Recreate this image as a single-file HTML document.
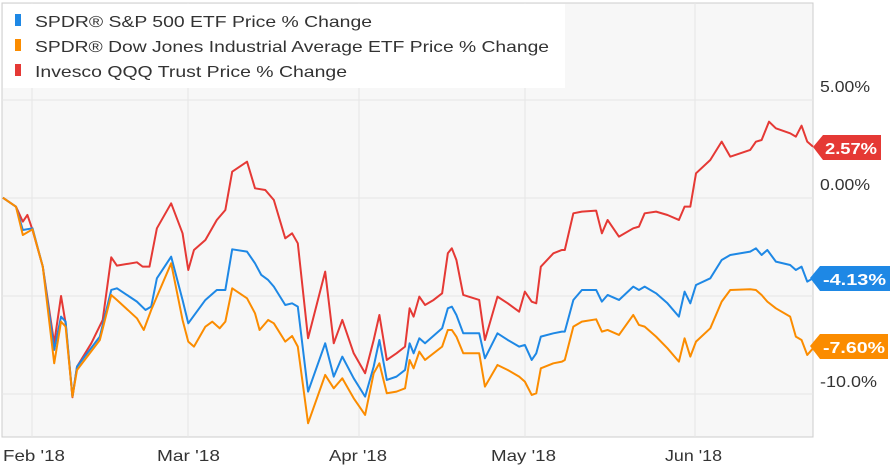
<!DOCTYPE html>
<html><head><meta charset="utf-8"><style>
body{margin:0;background:#fff;width:892px;height:471px;overflow:hidden;font-family:"Liberation Sans",sans-serif;}
</style></head><body>
<svg width="892" height="471" xmlns="http://www.w3.org/2000/svg" font-family="Liberation Sans, sans-serif">
<rect x="0" y="0" width="892" height="471" fill="#fff"/>
<rect x="2" y="3" width="811" height="434" fill="#f7f7f7" stroke="#ccc"/>
<g stroke="#e6e6e6" stroke-width="1">
<line x1="2" y1="100" x2="813" y2="100"/><line x1="2" y1="198" x2="813" y2="198"/>
<line x1="2" y1="296" x2="813" y2="296"/><line x1="2" y1="394" x2="813" y2="394"/>
<line x1="32" y1="3" x2="32" y2="437"/><line x1="188" y1="3" x2="188" y2="437"/>
<line x1="359" y1="3" x2="359" y2="437"/><line x1="525" y1="3" x2="525" y2="437"/>
<line x1="695" y1="3" x2="695" y2="437"/>
</g>
<rect x="3" y="4" width="562" height="84" fill="#fff"/>
<g font-size="16" fill="#333" lengthAdjust="spacingAndGlyphs">
<rect x="15" y="14" width="6" height="12" fill="#1e88e5"/><text x="35" y="27" textLength="337" lengthAdjust="spacingAndGlyphs">SPDR® S&amp;P 500 ETF Price % Change</text>
<rect x="15" y="39" width="6" height="12" fill="#fb8c00"/><text x="35" y="52" textLength="514" lengthAdjust="spacingAndGlyphs">SPDR® Dow Jones Industrial Average ETF Price % Change</text>
<rect x="15" y="64" width="6" height="12" fill="#e53935"/><text x="35" y="77" textLength="312" lengthAdjust="spacingAndGlyphs">Invesco QQQ Trust Price % Change</text>
</g>
<g font-size="16" fill="#333">
<text x="820" y="92" textLength="50" lengthAdjust="spacingAndGlyphs">5.00%</text><text x="820" y="190" textLength="50" lengthAdjust="spacingAndGlyphs">0.00%</text><text x="820" y="387" textLength="57" lengthAdjust="spacingAndGlyphs">-10.0%</text>
<text x="3" y="461" textLength="62" lengthAdjust="spacingAndGlyphs">Feb '18</text><text x="157" y="461" textLength="63" lengthAdjust="spacingAndGlyphs">Mar '18</text><text x="329" y="461" textLength="58" lengthAdjust="spacingAndGlyphs">Apr '18</text><text x="491" y="461" textLength="65" lengthAdjust="spacingAndGlyphs">May '18</text><text x="665" y="461" textLength="57" lengthAdjust="spacingAndGlyphs">Jun '18</text>
</g>
<g transform="scale(0.5705,0.3333)" fill="none" stroke-width="2" stroke-linejoin="round">
<polyline vector-effect="non-scaling-stroke" stroke="#e53935" points="5,593 28,620 40,665 48,645 57,690 75,800 95,1030 107,888 115,970 127,1192 135,1100 160,1030 180,960 195,772 205,797 240,787 250,800 262,800 275,685 300,610 320,700 330,810 340,750 360,720 380,660 395,630 407,515 433,485 447,565 465,570 480,600 500,715 512,700 522,730 540,1015 570,815 585,1030 600,960 620,1060 640,1120 655,1020 665,945 678,1080 695,1060 710,1040 718,925 725,950 735,890 745,915 760,900 775,880 785,760 792,745 800,780 812,885 840,900 850,1020 872,890 890,910 910,935 920,875 932,905 940,910 948,800 970,760 985,750 990,750 1005,640 1020,635 1045,632 1055,700 1065,660 1085,710 1110,685 1120,680 1130,640 1150,635 1170,645 1190,660 1200,620 1210,620 1220,520 1245,480 1265,425 1280,470 1315,450 1325,425 1335,420 1348,365 1360,385 1385,400 1395,410 1405,377 1415,425 1425,440"/>
<polyline vector-effect="non-scaling-stroke" stroke="#1e88e5" points="5,593 28,620 40,690 57,685 75,800 95,1050 107,950 115,965 127,1190 135,1100 175,1010 195,870 205,865 240,905 255,930 265,920 275,835 300,770 320,900 330,970 360,900 380,870 395,870 407,748 433,755 447,790 458,825 470,840 480,860 500,915 512,910 522,920 540,1175 570,1030 585,1130 600,1070 620,1135 640,1190 655,1100 665,1020 678,1140 695,1130 710,1110 718,1030 725,1060 735,1015 745,1030 775,985 785,925 792,920 800,945 812,1000 840,1000 850,1075 872,1000 890,1020 910,1040 920,1035 932,1080 940,1060 948,1010 970,1000 985,995 990,995 1005,900 1020,870 1045,870 1055,905 1065,885 1085,900 1110,860 1120,870 1130,860 1150,880 1170,910 1190,950 1200,875 1210,910 1220,855 1245,835 1265,780 1280,765 1315,755 1325,745 1335,765 1345,750 1360,785 1385,795 1395,810 1405,800 1415,845 1425,835"/>
<polyline vector-effect="non-scaling-stroke" stroke="#fb8c00" points="5,593 28,620 40,705 57,688 75,800 95,1090 107,965 115,980 127,1190 135,1110 175,1020 195,885 205,900 240,955 252,990 265,930 275,890 300,790 320,960 330,1025 340,1040 360,980 372,965 385,985 395,965 407,865 433,895 447,940 455,990 470,960 480,970 500,1025 512,1008 522,1040 540,1270 570,1125 585,1165 600,1135 620,1195 640,1245 655,1120 665,1090 678,1180 695,1175 710,1165 718,1080 725,1105 735,1055 745,1080 775,1040 785,990 792,990 800,1010 812,1060 840,1060 850,1160 872,1095 890,1110 910,1130 920,1145 932,1185 940,1180 948,1105 970,1090 985,1085 990,1080 1005,980 1020,965 1045,958 1055,995 1065,990 1085,1005 1110,945 1120,975 1130,980 1150,1010 1170,1045 1190,1085 1200,1015 1210,1070 1220,1025 1245,985 1265,905 1280,870 1315,868 1325,870 1335,885 1345,905 1360,925 1385,950 1395,1010 1405,1020 1415,1065 1425,1045"/>
</g>
<g font-size="16" font-weight="bold" fill="#fff">
<polygon points="813,147 823,135 881,135 881,160 823,160" fill="#e53935"/><text x="825" y="154" textLength="52" lengthAdjust="spacingAndGlyphs">2.57%</text>
<polygon points="810,278 820,266 890,266 890,291 820,291" fill="#1e88e5"/><text x="823" y="285" textLength="63" lengthAdjust="spacingAndGlyphs">-4.13%</text>
<polygon points="810,346 820,334 888,334 888,359 820,359" fill="#fb8c00"/><text x="823" y="353" textLength="62" lengthAdjust="spacingAndGlyphs">-7.60%</text>
</g>
</svg>
</body></html>
